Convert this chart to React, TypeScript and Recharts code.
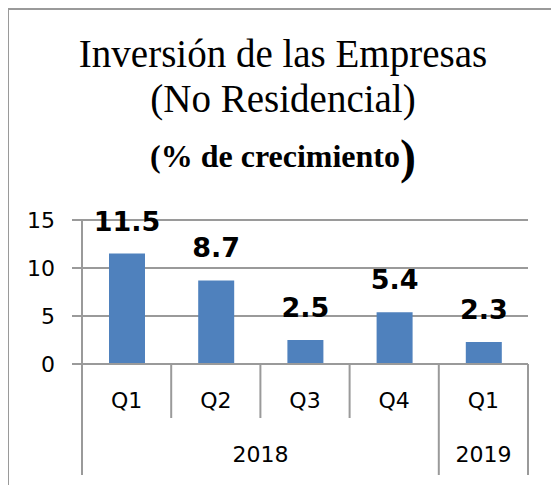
import { Bar, BarChart, CartesianGrid, LabelList, XAxis, YAxis } from 'recharts';

const quarters = ['Q1', 'Q2', 'Q3', 'Q4', 'Q1'];
const years = ['2018', '2018', '2018', '2018', '2019'];
const growth = [11.5, 8.7, 2.5, 5.4, 2.3];
const yTicks = [0, 5, 10, 15];

const data = quarters.map((q, i) => ({ key: `${years[i]}-${q}`, value: growth[i] }));

const GRAY = '#9a9a9a';
const SANS = '"DejaVu Sans", sans-serif';
const SERIF = '"Liberation Serif", "Times New Roman", serif';
const BAND = (519 - 73) / quarters.length;

const QuarterTick = (props: any) => {
  const { x, y, payload, index } = props;
  const half = payload?.offset || BAND / 2;
  const last = index === quarters.length - 1;
  return (
    <g>
      <line x1={x - half} x2={x - half} y1={y} y2={y + 54} stroke={GRAY} strokeWidth={2} />
      {last && <line x1={x + half} x2={x + half} y1={y} y2={y + 54} stroke={GRAY} strokeWidth={2} />}
      <text x={x} y={y + 44} textAnchor="middle" fontSize={22} fontFamily={SANS} fill="#000">
        {quarters[index]}
      </text>
    </g>
  );
};

const YearTick = (props: any) => {
  const { x, y, payload, index } = props;
  const half = payload?.offset || BAND / 2;
  const first = index === 0 || years[index - 1] !== years[index];
  const size = years.filter((yr) => yr === years[index]).length;
  const last = index === years.length - 1;
  return (
    <g>
      {first && <line x1={x - half} x2={x - half} y1={y} y2={y + 57} stroke={GRAY} strokeWidth={2} />}
      {last && <line x1={x + half} x2={x + half} y1={y} y2={y + 57} stroke={GRAY} strokeWidth={2} />}
      {first && (
        <text x={x - half + size * half} y={y + 44} textAnchor="middle" fontSize={22} fontFamily={SANS} fill="#000">
          {years[index]}
        </text>
      )}
    </g>
  );
};

const App = () => {
  return (
    <div
      style={{
        position: 'relative',
        width: 551,
        height: 477,
        marginLeft: -1,
        boxSizing: 'border-box',
        borderTop: `2px solid ${GRAY}`,
        borderLeft: `2px solid ${GRAY}`,
        overflow: 'hidden',
      }}
    >
      <BarChart width={549} height={475} data={data} margin={{ top: 210, right: 30, bottom: 10, left: 13 }}>
        <CartesianGrid vertical={false} stroke={GRAY} strokeWidth={2} />
        <XAxis
          dataKey="key"
          height={54}
          axisLine={{ stroke: GRAY, strokeWidth: 2 }}
          tickLine={false}
          tickSize={0}
          tickMargin={0}
          interval={0}
          tick={<QuarterTick />}
        />
        <XAxis
          xAxisId="year"
          dataKey="key"
          height={57}
          axisLine={false}
          tickLine={false}
          tickSize={0}
          tickMargin={0}
          interval={0}
          tick={<YearTick />}
        />
        <YAxis
          width={60}
          domain={[0, 15]}
          ticks={yTicks}
          interval={0}
          axisLine={{ stroke: GRAY, strokeWidth: 2 }}
          tickLine={{ stroke: GRAY, strokeWidth: 2 }}
          tickSize={10}
          tickMargin={17}
          tick={{ fontSize: 22, fontFamily: SANS, fill: '#000' }}
        />
        <Bar dataKey="value" fill="#4F81BD" barSize={36} isAnimationActive={false}>
          <LabelList
            dataKey="value"
            position="top"
            offset={23}
            formatter={(v: any) => Number(v).toFixed(1)}
            style={{ fontSize: 27, fontWeight: 'bold', fontFamily: SANS, fill: '#000' }}
          />
        </Bar>
      </BarChart>
      <svg width={549} height={200} style={{ position: 'absolute', left: 0, top: 0, pointerEvents: 'none' }}>
        <text x={274} y={57} textAnchor="middle" fontSize={39} fontFamily={SERIF} fill="#000">
          Inversión de las Empresas
        </text>
        <text x={274} y={102} textAnchor="middle" fontSize={39} fontFamily={SERIF} fill="#000">
          (No Residencial)
        </text>
        <text x={274} y={157} textAnchor="middle" fontFamily={SERIF} fontWeight="bold" fill="#000">
          <tspan fontSize={32}>(% de crecimiento</tspan>
          <tspan fontSize={48} dy={6}>)</tspan>
        </text>
      </svg>
    </div>
  );
};

export default App;
